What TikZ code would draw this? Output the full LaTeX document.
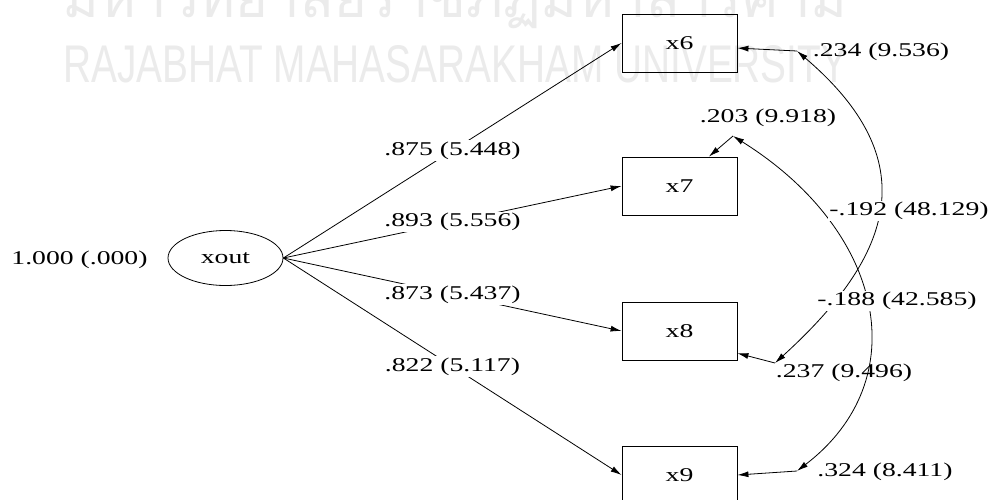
\documentclass[tikz,border=0pt]{standalone}
\usepackage{fontspec}
\setmainfont{Liberation Serif}[FakeStretch=1.42]
\newfontfamily\thaifont[Script=Thai]{Loma}
\newfontfamily\wmsans{Liberation Sans}
\usetikzlibrary{shapes.geometric,arrows.meta}
\definecolor{wmgray}{HTML}{EBEBEB}

\begin{document}
\begin{tikzpicture}[x=1pt,y=-1pt,
  lbl/.style={font=\fontsize{19.5}{22}\selectfont, inner sep=1.5pt},
  gap/.style={lbl, fill=white},
  obs/.style={draw, line width=0.8pt, minimum width=115pt, minimum height=58pt, inner sep=0pt, lbl},
  lat/.style={draw, ellipse, line width=0.8pt, minimum width=115pt, minimum height=55pt, inner sep=0pt, lbl},
  tip/.tip={Latex[length=11pt,width=6pt]},
  load/.style={line width=0.8pt, -tip},
  cov/.style={line width=0.8pt, tip-tip}]

\useasboundingbox (0,0) rectangle (992,499);
\fill[white] (0,0) rectangle (992,499);

% watermark
\node[anchor=base west, inner sep=0pt, text=wmgray] (wmth) at (62,17)
  {\resizebox{785pt}{!}{\thaifont มหาวิทยาลัยราชภัฏมหาสารคาม}};
\node[anchor=north west, inner sep=0pt, text=wmgray] (wmen) at (63,45)
  {\resizebox{784pt}{37pt}{\wmsans RAJABHAT MAHASARAKHAM UNIVERSITY}};

% latent variable and indicators
\node[lat] (xout) at (225.5,258) {xout};
\node[lbl] (vxout) at (79.5,260) {1.000 (.000)};

\node[obs] (x6) at (679.5,43) {x6};
\node[obs] (x7) at (679.5,186) {x7};
\node[obs] (x8) at (679.5,331) {x8};
\node[obs] (x9) at (679.5,475) {x9};

% loadings
\draw[load] (xout.east) -- node[gap] {.875 (5.448)} (x6.west);
\draw[load] (xout.east) -- node[gap] {.893 (5.556)} (x7.west);
\draw[load] (xout.east) -- node[gap] {.873 (5.437)} (x8.west);
\draw[load] (xout.east) -- node[gap] {.822 (5.117)} (x9.west);

% error terms
\coordinate (e6) at (797,51);
\coordinate (e7) at (733,136);
\coordinate (e8) at (775,363);
\coordinate (e9) at (797,471);

\node[lbl] (t6) at (881,52) {.234 (9.536)};
\node[lbl] (t7) at (768,118) {.203 (9.918)};
\node[lbl] (t8) at (844,373) {.237 (9.496)};
\node[lbl] (t9) at (885,472) {.324 (8.411)};

\draw[load] (e6) -- (x6.-5);
\draw[load] (e7) -- (x7.45);
\draw[load] (e8) -- (x8.-21);
\draw[load] (e9) -- (x9.east);

% error covariances
\draw[cov] (e6) .. controls (925,160) and (895,254) .. (e8);
\draw[cov] (e7) .. controls (885,231) and (916,380) .. (e9);

\node[gap] (c68) at (909,211) {-.192 (48.129)};
\node[gap] (c79) at (897,301) {-.188 (42.585)};

\end{tikzpicture}
\end{document}
